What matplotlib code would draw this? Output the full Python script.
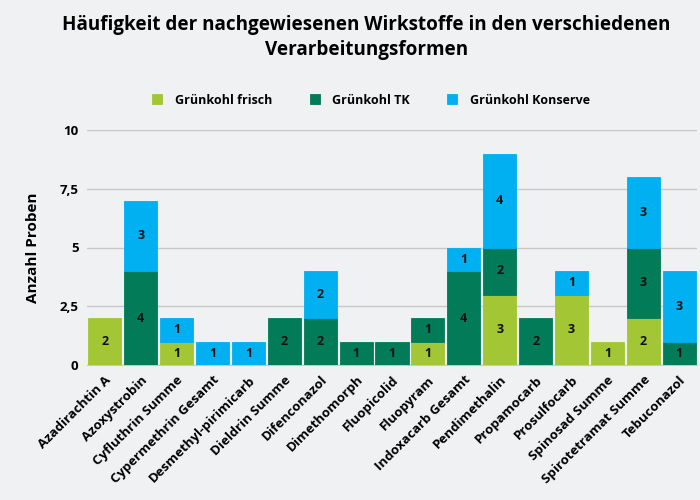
import matplotlib
matplotlib.use("Agg")
import matplotlib.pyplot as plt
import numpy as np

categories = ["Azadirachtin A", "Azoxystrobin", "Cyfluthrin Summe", "Cypermethrin Gesamt",
              "Desmethyl-pirimicarb", "Dieldrin Summe", "Difenconazol", "Dimethomorph",
              "Fluopicolid", "Fluopyram", "Indoxacarb Gesamt", "Pendimethalin",
              "Propamocarb", "Prosulfocarb", "Spinosad Summe", "Spirotetramat Summe",
              "Tebuconazol"]
frisch   = [2, 0, 1, 0, 0, 0, 0, 0, 0, 1, 0, 3, 0, 3, 1, 2, 0]
tk       = [0, 4, 0, 0, 0, 2, 2, 1, 1, 1, 4, 2, 2, 0, 0, 3, 1]
konserve = [0, 3, 1, 1, 1, 0, 2, 0, 0, 0, 1, 4, 0, 1, 0, 3, 3]
series_names = ["Grünkohl frisch", "Grünkohl TK", "Grünkohl Konserve"]
colors = ["#a3c634", "#017b58", "#00b0f0"]
yticks = [0, 2.5, 5, 7.5, 10]
ytick_labels = ["0", "2,5", "5", "7,5", "10"]

plt.rcParams['font.family'] = ['Open Sans', 'DejaVu Sans']
bg = "#f0f1f3"
fig = plt.figure(figsize=(7, 5), dpi=100, facecolor=bg)
ax = fig.add_axes([0.124, 0.27, 0.872, 0.47], facecolor=bg)

x = np.arange(len(categories))
bottom = np.zeros(len(categories))
for vals, name, col in zip([frisch, tk, konserve], series_names, colors):
    vals = np.array(vals, dtype=float)
    mask = vals > 0
    ax.bar(x[mask], vals[mask], width=0.92, bottom=bottom[mask], color=col, label=name,
           edgecolor=col, linewidth=0.6, zorder=3)
    for xi, v, b in zip(x, vals, bottom):
        if v > 0:
            ax.text(xi, b + v / 2, f"{int(v)}", ha="center", va="center",
                    fontsize=9, fontweight="bold", color="#111111", zorder=4)
    bottom += vals

ax.set_xlim(-0.5, len(categories) - 0.5)
ax.set_ylim(0, 10)
ax.set_yticks(yticks)
ax.set_yticklabels(ytick_labels, fontsize=9.5, fontweight="bold")
ax.set_xticks(x)
ax.set_xticklabels(categories, rotation=45, ha="right", rotation_mode="anchor",
                   fontsize=9.5, fontweight="bold")
ax.tick_params(axis="both", length=0, pad=6)
ax.grid(axis="y", color="#c8c8c8", linewidth=1, zorder=0)
for s in ["top", "right", "left"]:
    ax.spines[s].set_visible(False)
ax.spines["bottom"].set_color("#c8c8c8")
ax.set_ylabel("Anzahl Proben", fontsize=11, fontweight="bold", labelpad=14)

fig.text(0.523, 0.925, "Häufigkeit der nachgewiesenen Wirkstoffe in den verschiedenen\nVerarbeitungsformen",
         ha="center", va="center", fontsize=13.6, fontweight="bold", linespacing=1.35)
leg = fig.legend(loc="center", bbox_to_anchor=(0.53, 0.80), ncol=3, frameon=False,
                 prop={"weight": "bold", "size": 9}, handlelength=0.8, handleheight=0.8,
                 columnspacing=3.0, handletextpad=1.0)

fig.savefig("out.png", dpi=100, facecolor=bg)
